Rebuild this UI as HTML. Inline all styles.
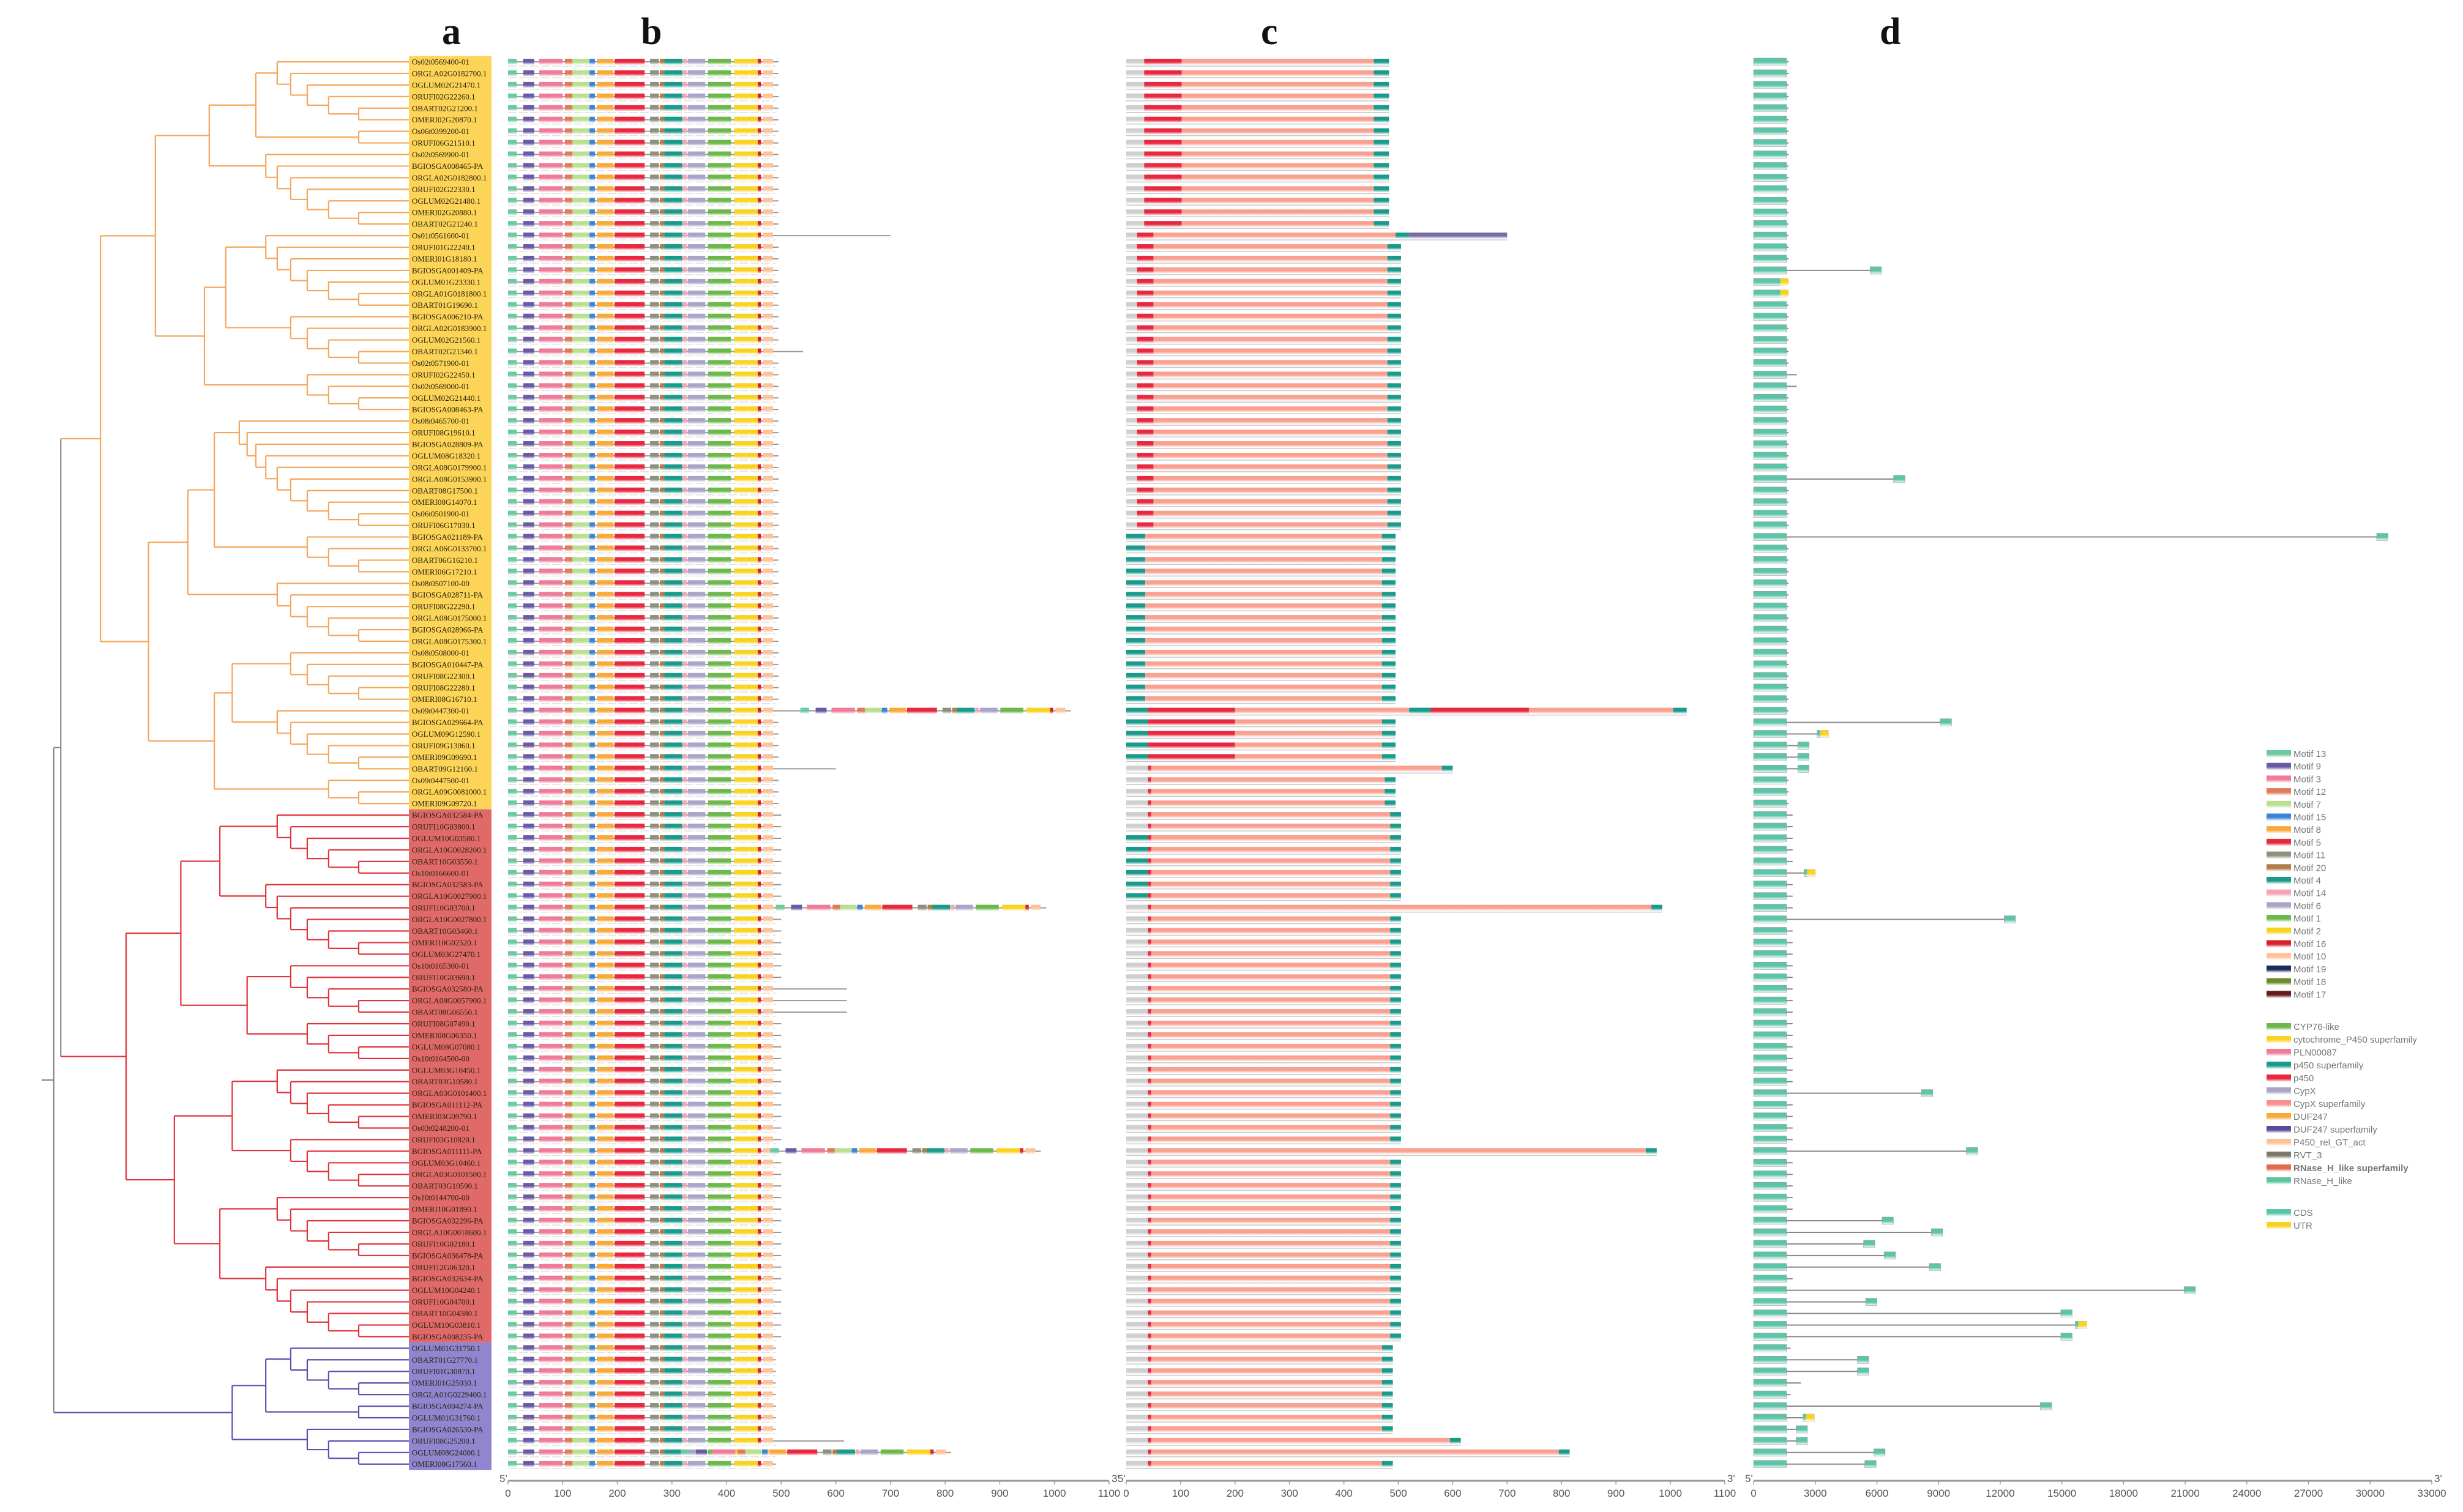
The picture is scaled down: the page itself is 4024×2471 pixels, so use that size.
<!DOCTYPE html>
<html><head><meta charset="utf-8"><title>P450 gene family figure</title>
<style>
html,body{margin:0;padding:0;background:#fff;}
body{width:4024px;height:2471px;overflow:hidden;}
svg{display:block;}
.lbl{font-family:"Liberation Serif",serif;font-size:13px;fill:#2a2210;}
.tick{font-family:"Liberation Sans",sans-serif;font-size:17px;fill:#555;}
.leg{font-family:"Liberation Sans",sans-serif;font-size:15px;fill:#777;}
.panel{font-family:"Liberation Serif",serif;font-size:62px;font-weight:bold;fill:#111;}
</style></head>
<body>
<svg id="fig" width="4024" height="2471" viewBox="0 0 4024 2471" xmlns="http://www.w3.org/2000/svg">
<defs id="defs"></defs>
<text class="panel" x="722" y="72">a</text>
<text class="panel" x="1047" y="72">b</text>
<text class="panel" x="2060" y="72">c</text>
<text class="panel" x="3071" y="72">d</text>
<g id="tree"></g>
<g id="labels"></g>
<g id="motifs"></g>
<g id="domains"></g>
<g id="genes"></g>
<g id="axes"></g>
<g id="legend"></g>
</svg>
<script>
const names = ["Os02t0569400-01","ORGLA02G0182700.1","OGLUM02G21470.1","ORUFI02G22260.1","OBART02G21200.1","OMERI02G20870.1","Os06t0399200-01","ORUFI06G21510.1","Os02t0569900-01","BGIOSGA008465-PA","ORGLA02G0182800.1","ORUFI02G22330.1","OGLUM02G21480.1","OMERI02G20880.1","OBART02G21240.1","Os01t0561600-01","ORUFI01G22240.1","OMERI01G18180.1","BGIOSGA001409-PA","OGLUM01G23330.1","ORGLA01G0181800.1",
"OBART01G19690.1","BGIOSGA006210-PA","ORGLA02G0183900.1","OGLUM02G21560.1","OBART02G21340.1","Os02t0571900-01","ORUFI02G22450.1","Os02t0569000-01","OGLUM02G21440.1","BGIOSGA008463-PA","Os08t0465700-01","ORUFI08G19610.1","BGIOSGA028809-PA","OGLUM08G18320.1","ORGLA08G0179900.1","ORGLA08G0153900.1","OBART08G17500.1","OMERI08G14070.1","Os06t0501900-01","ORUFI06G17030.1","BGIOSGA021189-PA",
"ORGLA06G0133700.1","OBART06G16210.1","OMERI06G17210.1","Os08t0507100-00","BGIOSGA028711-PA","ORUFI08G22290.1","ORGLA08G0175000.1","BGIOSGA028966-PA","ORGLA08G0175300.1","Os08t0508000-01","BGIOSGA010447-PA","ORUFI08G22300.1","ORUFI08G22280.1","OMERI08G16710.1","Os09t0447300-01","BGIOSGA029664-PA","OGLUM09G12590.1","ORUFI09G13060.1","OMERI09G09690.1","OBART09G12160.1",
"Os09t0447500-01","ORGLA09G0081000.1","OMERI09G09720.1",
"BGIOSGA032584-PA","ORUFI10G03800.1","OGLUM10G03580.1","ORGLA10G0028200.1","OBART10G03550.1","Os10t0166600-01","BGIOSGA032583-PA","ORGLA10G0027900.1","ORUFI10G03700.1","ORGLA10G0027800.1","OBART10G03460.1","OMERI10G02520.1","OGLUM03G27470.1","Os10t0165300-01","ORUFI10G03690.1","BGIOSGA032580-PA","ORGLA08G0057900.1","OBART08G06550.1",
"ORUFI08G07490.1","OMERI08G06350.1","OGLUM08G07080.1","Os10t0164500-00","OGLUM03G10450.1","OBART03G10580.1","ORGLA03G0101400.1","BGIOSGA011112-PA","OMERI03G09790.1","Os03t0248200-01","ORUFI03G10820.1","BGIOSGA011111-PA","OGLUM03G10460.1","ORGLA03G0101500.1","OBART03G10590.1","Os10t0144700-00","OMERI10G01890.1","BGIOSGA032296-PA","ORGLA10G0018600.1","ORUFI10G02180.1","BGIOSGA036478-PA",
"ORUFI12G06320.1","BGIOSGA032634-PA","OGLUM10G04240.1","ORUFI10G04700.1","OBART10G04380.1","OGLUM10G03810.1","BGIOSGA008235-PA",
"OGLUM01G31750.1","OBART01G27770.1","ORUFI01G30870.1","OMERI01G25030.1","ORGLA01G0229400.1","BGIOSGA004274-PA","OGLUM01G31760.1","BGIOSGA026530-PA","ORUFI08G25200.1","OGLUM08G24000.1","OMERI08G17560.1"];

const cladeEnds = [65,111,122];
const clusterSizes = [6,2,7,7,5,4,10,4,6,5,6,3, 6,7,5,4,6,5,6,7, 5,2,4];

const motifIds   = [13,9,3,12,7,15,8,5,11,20,4,14,6,1,2,16,10];
const motifStart = [0,28,57,104,118,149,163,195,260,278,286,320,329,366,414,457,467];
const motifEnd   = [16,48,100,118,148,159,193,250,276,286,319,327,361,408,457,463,485];
const protSpecialRows = [15,25,56,61,73,80,81,82,94,119,120];
const protSpecialLen  = [700,540,1030,600,985,620,620,620,975,615,811];

const cSpecialRows = [15,56,61,73,94,119,120];
const cSpecialLen  = [700,1030,600,985,975,615,815];

const geneSpecialRows = [18,27,28,36,41,57,58,59,60,61,70,74,89,94,100,101,102,103,104,106,107,108,109,110,112,113,114,116,117,118,119,120,121];
const geneSpecialLen  = [6220,2100,2100,7360,30870,9630,3640,2700,2700,2700,3000,12740,8720,10900,6800,9200,5900,6900,9100,21500,6000,15500,16200,15500,5600,5600,2300,14500,2950,2620,2620,6400,5960];
const utrRows = [19,20,58,70,109,117];

const bTicks = [0,100,200,300,400,500,600,700,800,900,1000,1100];
const dTicks = [0,3000,6000,9000,12000,15000,18000,21000,24000,27000,30000,33000];

const motifLegend = [13,9,3,12,7,15,8,5,11,20,4,14,6,1,2,16,10,19,18,17];
const domainLegend = ["CYP76-like","cytochrome_P450 superfamily","PLN00087","p450 superfamily","p450","CypX","CypX superfamily","DUF247","DUF247 superfamily","P450_rel_GT_act","RVT_3","RNase_H_like superfamily","RNase_H_like"];
const domainColors = ["#6cb84a","#f9d322","#ef7b9b","#1a9a8a","#e8283f","#a8a5c8","#f78f8f","#f7a93a","#5a4a9a","#fcc39a","#7a7a6a","#e06a4a","#5cc4a0"];

const motifColor = {13:"#6cc9a0",9:"#6a5aa5",3:"#ef7b9b",12:"#e07a5a",7:"#b9e08f",15:"#3a84d8",8:"#f7a93a",5:"#e8283f",11:"#8f8f80",20:"#b07c4a",4:"#1a9a8a",14:"#f5a3b6",6:"#a8a5c8",1:"#6cb84a",2:"#f9d322",16:"#d8202c",10:"#fcc39a",19:"#1d2b5a",18:"#6b8a2a",17:"#6a1a1a"};

const NS="http://www.w3.org/2000/svg";
const svg=document.getElementById('fig');
const defs=document.getElementById('defs');
function mk(tag,attrs,parent){const e=document.createElementNS(NS,tag);for(const k in attrs)e.setAttribute(k,attrs[k]);if(parent)parent.appendChild(e);return e;}
const gradCache={};
function grad(color){
  if(gradCache[color])return gradCache[color];
  const id='g'+color.replace('#','');
  const g=mk('linearGradient',{id:id,x1:0,y1:0,x2:0,y2:1},defs);
  mk('stop',{offset:'0',"stop-color":color},g);
  mk('stop',{offset:'0.55',"stop-color":color},g);
  mk('stop',{offset:'1',"stop-color":"#ffffff"},g);
  gradCache[color]='url(#'+id+')';return gradCache[color];
}
const N=names.length;
const rowY=i=>101+18.94*i;
const xb=a=>830+a*0.8927;
const xc=a=>1840+a*0.889;
const xd=b=>2865+b*(1108/33000);
function cladeOf(i){return i<cladeEnds[0]?0:(i<cladeEnds[1]?1:2);}
const cladeLine=["#f5a65b","#e0323a","#5a4fb0"];
const cladeBox=["#fcd558","#e06a6a","#8f86cf"];

const labels=document.getElementById('labels');
let start=0;
cladeEnds.forEach((end,c)=>{
  const r=mk('rect',{x:668,y:rowY(start)-9.5,width:135,height:(end-start)*18.94,fill:cladeBox[c]},labels);
  
  
  start=end;
});
names.forEach((n,i)=>{
  const t=mk('text',{x:673,y:rowY(i)+4.5,class:'lbl'},labels);
  t.textContent=n;
  
  
});

const tree=document.getElementById('tree');
function leafNode(i){return {lo:i,hi:i,n:1,y:rowY(i),kids:[]};}
function join(a,b){return {lo:a.lo,hi:b.hi,n:a.n+b.n,kids:[a,b]};}
function ladder(nodes){let cur=nodes[nodes.length-1];for(let k=nodes.length-2;k>=0;k--)cur=join(nodes[k],cur);return cur;}
function balanced(nodes){if(nodes.length===1)return nodes[0];const m=Math.ceil(nodes.length/2);return join(balanced(nodes.slice(0,m)),balanced(nodes.slice(m)));}
let idx=0;const clusters=[];
clusterSizes.forEach(s=>{const leaves=[];for(let k=0;k<s;k++)leaves.push(leafNode(idx+k));idx+=s;clusters.push(ladder(leaves));});
const cladesN=[];let ci=0;
[12,8,3].forEach(cnt=>{cladesN.push(balanced(clusters.slice(ci,ci+cnt)));ci+=cnt;});
const root=join(join(cladesN[0],cladesN[1]),cladesN[2]);
function xOf(node){return node.n===1?668:670-84*Math.log2(node.n);}
function layout(node){if(node.n===1)return node.y;const ys=node.kids.map(layout);node.y=(ys[0]+ys[ys.length-1])/2;return node.y;}
layout(root);
function colorOf(node){const a=cladeOf(node.lo),b=cladeOf(node.hi);return a===b?cladeLine[a]:"#888888";}
function drawNode(node){
  if(node.n===1)return;
  const x=xOf(node),col=colorOf(node);
  const ys=node.kids.map(k=>k.y);
  const v=mk('line',{x1:x,y1:Math.min(...ys),x2:x,y2:Math.max(...ys),stroke:col,"stroke-width":2.2},tree);
  
  
  node.kids.forEach(k=>{
    const h=mk('line',{x1:x,y1:k.y,x2:xOf(k),y2:k.y,stroke:colorOf(k),"stroke-width":2.2},tree);
    
    
    drawNode(k);
  });
}
drawNode(root);
const rl=mk('line',{x1:xOf(root)-20,y1:root.y,x2:xOf(root),y2:root.y,stroke:"#888","stroke-width":2.2},tree);



const motifs=document.getElementById('motifs');
function protLen(i){const k=protSpecialRows.indexOf(i);return k>=0?protSpecialLen[k]:(i<65?495:(i<111?500:490));}
for(let i=0;i<N;i++){
  const y=rowY(i),L=protLen(i);
  const bl=mk('line',{x1:xb(0),y1:y,x2:xb(L),y2:y,stroke:"#999","stroke-width":2},motifs);
  
  
  mk('line',{x1:xb(0),y1:y+7,x2:xb(Math.min(L,490)),y2:y+7,stroke:"#e2e2e2","stroke-width":1.5,"stroke-dasharray":"14 4"},motifs);
  const offsets=[0];
  if(L>780)offsets.push(L-495);
  offsets.forEach(off=>{
    for(let m=0;m<motifIds.length;m++){
      const r=mk('rect',{x:xb(motifStart[m]+off),y:y-5,width:Math.max(2,xb(motifEnd[m])-xb(motifStart[m])),height:10,fill:grad(motifColor[motifIds[m]])},motifs);
      
      
    }
  });
}

const domains=document.getElementById('domains');
function cLen(i){const k=cSpecialRows.indexOf(i);return k>=0?cSpecialLen[k]:(i<15?483:(i<41?505:(i<65?495:(i<111?505:490))));}
function seg(a,b,y,col,name){
  const r=mk('rect',{x:xc(a),y:y-5,width:Math.max(1,xc(b)-xc(a)),height:10,fill:grad(col)},domains);
  
  
}
for(let i=0;i<N;i++){
  const y=rowY(i),L=cLen(i);
  mk('line',{x1:xc(0),y1:y+7,x2:xc(L),y2:y+7,stroke:"#c8c8c8","stroke-width":1.5},domains);
  if(i<15){seg(0,33,y,"#cfcfcf","domain-cypx");seg(33,102,y,"#e8283f","domain-p450");seg(102,455,y,"#f9a090","domain-cypx-superfamily");seg(455,L,y,"#1a9a8a","domain-p450-superfamily");}
  else if(i<41){seg(0,20,y,"#cfcfcf","domain-cypx");seg(20,50,y,"#e8283f","domain-p450");
    const e=(i===15?495:L-25);seg(50,e,y,"#f9a090","domain-cypx-superfamily");seg(e,e+25,y,"#1a9a8a","domain-p450-superfamily");
    if(i===15)seg(520,L,y,"#7a6aaa","domain-duf247-superfamily");}
  else if(i<56){seg(0,35,y,"#1a9a8a","domain-p450-superfamily");seg(35,L-25,y,"#f9a090","domain-cypx-superfamily");seg(L-25,L,y,"#1a9a8a","domain-p450-superfamily");}
  else if(i<61){seg(0,40,y,"#1a9a8a","domain-p450-superfamily");seg(40,200,y,"#e8283f","domain-p450");seg(200,L-25,y,"#f9a090","domain-cypx-superfamily");seg(L-25,L,y,"#1a9a8a","domain-p450-superfamily");
    if(L>800){seg(520,560,y,"#1a9a8a","domain-p450-superfamily");seg(560,740,y,"#e8283f","domain-p450");}}
  else {seg(0,40,y,(i>=67&&i<=72)?"#1a9a8a":"#cfcfcf","domain-cypx");seg(40,46,y,"#e8283f","domain-p450");seg(46,L-20,y,"#f9a090","domain-cypx-superfamily");seg(L-20,L,y,"#1a9a8a","domain-p450-superfamily");}
}

const genes=document.getElementById('genes');
function gLen(i){const k=geneSpecialRows.indexOf(i);return k>=0?geneSpecialLen[k]:(i<65?1700:(i<111?1900:1800));}
for(let i=0;i<N;i++){
  const y=rowY(i),L=gLen(i);
  const ln=mk('line',{x1:xd(0),y1:y,x2:xd(L),y2:y,stroke:"#888","stroke-width":2},genes);
  
  
  const ex=[[0,Math.min(L,1600)]];
  if(L>2500)ex.push([L-550,L]);
  ex.forEach(e=>{
    const r=mk('rect',{x:xd(e[0]),y:y-6,width:xd(e[1])-xd(e[0]),height:12,fill:grad("#5cc4a8"),stroke:"#9a9a9a","stroke-width":0.6},genes);
    
    
  });
  if(utrRows.indexOf(i)>=0){
    const u=mk('rect',{x:xd(L-400),y:y-6,width:xd(400)-xd(0),height:12,fill:grad("#f9d322")},genes);
    
    
  }
}

const axes=document.getElementById('axes');
function axis(x0,x1,ticks,fx,name){
  const y=2420;
  const l=mk('line',{x1:x0,y1:y,x2:x1,y2:y,stroke:"#999","stroke-width":3},axes);
  
  
  const a=mk('text',{x:x0-14,y:y+2,class:'tick'},axes);a.textContent="5'";
  const b=mk('text',{x:x1+4,y:y+2,class:'tick'},axes);b.textContent="3'";
  ticks.forEach(t=>{
    mk('line',{x1:fx(t),y1:y,x2:fx(t),y2:y+6,stroke:"#999","stroke-width":1.5},axes);
    const tx=mk('text',{x:fx(t),y:y+26,class:'tick',"text-anchor":"middle"},axes);
    tx.textContent=t;
    
    
  });
}
axis(xb(0),xb(1100),bTicks,xb,'motif-axis');
axis(xc(0),xc(1100),bTicks,xc,'domain-axis');
axis(xd(0),xd(33000),dTicks,xd,'gene-axis');

const legend=document.getElementById('legend');
motifLegend.forEach((m,k)=>{
  const y=1226+k*20.7;
  const r=mk('rect',{x:3703,y:y,width:40,height:12,fill:grad(motifColor[m])},legend);
  
  
  const t=mk('text',{x:3747,y:y+11,class:'leg'},legend);t.textContent='Motif '+m;
  
  
});
domainLegend.forEach((d,k)=>{
  const y=1672+k*21;
  mk('rect',{x:3703,y:y,width:40,height:12,fill:grad(domainColors[k])},legend);
  const t=mk('text',{x:3747,y:y+11,class:'leg'},legend);t.textContent=d;
  if(k===11){t.setAttribute('fill','#333');t.setAttribute('font-weight','bold');}
  
  
});
[["CDS","#5cc4a8"],["UTR","#f9d322"]].forEach((e,k)=>{
  const y=1976+k*21;
  mk('rect',{x:3703,y:y,width:40,height:12,fill:grad(e[1])},legend);
  const t=mk('text',{x:3747,y:y+11,class:'leg'},legend);t.textContent=e[0];
  
  
});
</script>
</body></html>
